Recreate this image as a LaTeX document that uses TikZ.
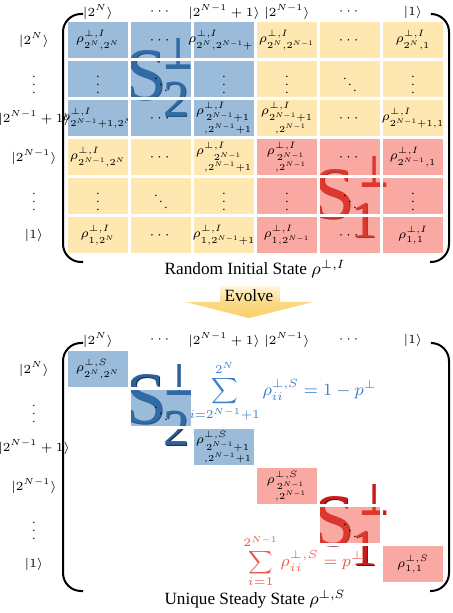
\RequirePackage{fix-cm}
\documentclass[tikz,border=0pt]{standalone}
\usepackage{amsmath}
\usepackage{graphicx}
\usepackage{fontspec}
\setmainfont{Liberation Serif}
\newfontfamily\tackfont{DejaVu Sans}
\DeclareMathSizes{6.2}{6.2}{4.4}{3.3}
\DeclareMathSizes{6.4}{6.4}{4.6}{3.4}
\DeclareMathSizes{8.2}{8.2}{5.8}{4.3}
\DeclareMathSizes{8.6}{8.6}{6}{4.5}
\usetikzlibrary{positioning}
\definecolor{blkblue}{HTML}{3577B5}
\definecolor{blkyel}{HTML}{FDCF63}
\definecolor{blkred}{HTML}{F35345}
\definecolor{stwo}{HTML}{2D6096}
\definecolor{stwodark}{HTML}{143252}
\definecolor{sone}{HTML}{C81C1C}
\definecolor{sonedark}{HTML}{6E0A0A}
\definecolor{sumblue}{HTML}{3D80C8}
\definecolor{sumred}{HTML}{F0564C}
\definecolor{evtop}{HTML}{FFF6DC}
\definecolor{evmid}{HTML}{FADA85}
\definecolor{evbot}{HTML}{F8CF6A}
\tikzset{
  ctext/.style={inner sep=0pt, font=\fontsize{6.4}{8}\selectfont},
  cell/.style={draw=white, line width=1.5pt, minimum width=31.5pt, minimum height=19.5pt, inner sep=0pt, outer sep=0pt, fill opacity=0.5},
  cellb/.style={cell, fill=blkblue, label={[ctext]center:#1}},
  celly/.style={cell, fill=blkyel, label={[ctext]center:#1}},
  cellr/.style={cell, fill=blkred, label={[ctext]center:#1}},
  lbl/.style={inner sep=1pt, font=\fontsize{6.2}{8}\selectfont},
  caption/.style={inner sep=1pt, font=\fontsize{8.6}{10}\selectfont},
  bigS/.style={inner sep=0pt, font=\fontsize{37}{37}\selectfont},
  bigsub/.style={inner sep=0pt, font=\fontsize{26}{26}\selectfont},
  tack/.style={inner sep=0pt, font=\fontsize{22}{22}\tackfont\bfseries},
  brace/.style={line width=1pt, rounded corners=9pt},
  evolve/.style={top color=evtop, bottom color=evbot, middle color=evmid},
  sumb/.style={inner sep=0pt, text=sumblue, font=\fontsize{8.6}{10}\selectfont},
  sumr/.style={inner sep=0pt, text=sumred, font=\fontsize{8.2}{10}\selectfont}
}

\begin{document}
\begin{tikzpicture}[x=0.5pt, y=-0.5pt, node distance=0pt]
  \useasboundingbox (0,0) rectangle (453,613);
  \coordinate (rowx) at (34,0);
  \coordinate (thead) at (0,12);
  \coordinate (bhead) at (0,340);

  % subspace marks behind the top matrix
  \node[bigS, text=stwodark] (s2tsh) at (147.5,76.5) {S};
  \node[bigS, text=stwo] (s2t) at (146,75) {S};
  \node[bigsub, text=stwodark] (s2tsub) at (177,100) {2};
  \node[bigsub, text=stwo] (s2tsubm) at (176,99) {2};
  \node[tack, text=stwo] (s2tsup) at (179,54) {\scalebox{0.75}[1]{⊥}};
  \node[bigS, text=sonedark] (s1tsh) at (335.5,195.5) {S};
  \node[bigS, text=sone] (s1t) at (334,194) {S};
  \node[bigsub, text=sonedark] (s1tsub) at (365,221) {1};
  \node[bigsub, text=sone] (s1tsubm) at (364,220) {1};
  \node[tack, text=sone] (s1tsup) at (375,172) {\scalebox{0.75}[1]{⊥}};

  % top matrix
  \node[cellb={$\rho^{\perp,I}_{2^N,2^N}$}] (t11) at (98,40) {};
  \node[cellb={$\cdots$}, right=of t11] (t12) {};
  \node[cellb={$\rho^{\perp,I}_{2^N,2^{N-1}+1}$}, right=of t12] (t13) {};
  \node[celly={$\rho^{\perp,I}_{2^N,2^{N-1}}$}, right=of t13] (t14) {};
  \node[celly={$\cdots$}, right=of t14] (t15) {};
  \node[celly={$\rho^{\perp,I}_{2^N,1}$}, right=of t15] (t16) {};

  \node[cellb={$\vdots$}, below=of t11] (t21) {};
  \node[cellb={$\ddots$}, right=of t21] (t22) {};
  \node[cellb={$\vdots$}, right=of t22] (t23) {};
  \node[celly={$\vdots$}, right=of t23] (t24) {};
  \node[celly={$\ddots$}, right=of t24] (t25) {};
  \node[celly={$\vdots$}, right=of t25] (t26) {};

  \node[cellb={$\rho^{\perp,I}_{2^{N-1}+1,2^N}$}, below=of t21] (t31) {};
  \node[cellb={$\cdots$}, right=of t31] (t32) {};
  \node[cellb={$\rho^{\perp,I}_{\substack{2^{N-1}+1\\,2^{N-1}+1}}$}, right=of t32] (t33) {};
  \node[celly={$\rho^{\perp,I}_{\substack{2^{N-1}+1\\,2^{N-1}}}$}, right=of t33] (t34) {};
  \node[celly={$\cdots$}, right=of t34] (t35) {};
  \node[celly={$\rho^{\perp,I}_{2^{N-1}+1,1}$}, right=of t35] (t36) {};

  \node[celly={$\rho^{\perp,I}_{2^{N-1},2^N}$}, below=of t31] (t41) {};
  \node[celly={$\cdots$}, right=of t41] (t42) {};
  \node[celly={$\rho^{\perp,I}_{\substack{2^{N-1}\\,2^{N-1}+1}}$}, right=of t42] (t43) {};
  \node[cellr={$\rho^{\perp,I}_{\substack{2^{N-1}\\,2^{N-1}}}$}, right=of t43] (t44) {};
  \node[cellr={$\cdots$}, right=of t44] (t45) {};
  \node[cellr={$\rho^{\perp,I}_{2^{N-1},1}$}, right=of t45] (t46) {};

  \node[celly={$\vdots$}, below=of t41] (t51) {};
  \node[celly={$\ddots$}, right=of t51] (t52) {};
  \node[celly={$\vdots$}, right=of t52] (t53) {};
  \node[cellr={$\vdots$}, right=of t53] (t54) {};
  \node[cellr={$\ddots$}, right=of t54] (t55) {};
  \node[cellr={$\vdots$}, right=of t55] (t56) {};

  \node[celly={$\rho^{\perp,I}_{1,2^N}$}, below=of t51] (t61) {};
  \node[celly={$\cdots$}, right=of t61] (t62) {};
  \node[celly={$\rho^{\perp,I}_{1,2^{N-1}+1}$}, right=of t62] (t63) {};
  \node[cellr={$\rho^{\perp,I}_{1,2^{N-1}}$}, right=of t63] (t64) {};
  \node[cellr={$\cdots$}, right=of t64] (t65) {};
  \node[cellr={$\rho^{\perp,I}_{1,1}$}, right=of t65] (t66) {};

  % top labels
  \node[lbl] (tc1) at (t11 |- thead) {$|2^N\rangle$};
  \node[lbl] (tc2) at (t12 |- thead) {$\cdots$};
  \node[lbl] (tc3) at (t13 |- thead) {$|2^{N-1}+1\rangle$};
  \node[lbl] (tc4) at (t14 |- thead) {$|2^{N-1}\rangle$};
  \node[lbl] (tc5) at (t15 |- thead) {$\cdots$};
  \node[lbl] (tc6) at (t16 |- thead) {$|1\rangle$};
  \node[lbl] (tr1) at (rowx |- t11) {$|2^N\rangle$};
  \node[lbl] (tr2) at (rowx |- t21) {$\vdots$};
  \node[lbl] (tr3) at (rowx |- t31) {$|2^{N-1}+1\rangle$};
  \node[lbl] (tr4) at (rowx |- t41) {$|2^{N-1}\rangle$};
  \node[lbl] (tr5) at (rowx |- t51) {$\vdots$};
  \node[lbl] (tr6) at (rowx |- t61) {$|1\rangle$};

  \draw[brace] (83,14) -- (63,14) -- (63,262) -- (83,262);
  \draw[brace] (432,14) -- (449,14) -- (449,262) -- (430,262);
  \node[caption] (capI) at (255,269) {Random Initial State $\rho^{\perp,I}$};

  % evolve arrow
  \shade[evolve] (220,286) -- (280,286) -- (280,302) -- (313,302) -- (249,318)
    -- (185,302) -- (220,302) -- cycle;
  \node[caption] (evolve) at (249,296) {Evolve};

  % subspace marks behind the bottom matrix
  \node[bigS, text=stwodark] (s2bsh) at (147.5,400.5) {S};
  \node[bigS, text=stwo] (s2b) at (146,399) {S};
  \node[bigsub, text=stwodark] (s2bsub) at (177,429) {2};
  \node[bigsub, text=stwo] (s2bsubm) at (176,428) {2};
  \node[tack, text=stwo] (s2bsup) at (180,380) {\scalebox{0.75}[1]{⊥}};
  \node[bigS, text=sonedark] (s1bsh) at (335.5,522.5) {S};
  \node[bigS, text=sone] (s1b) at (334,521) {S};
  \node[bigsub, text=sonedark] (s1bsub) at (365,549) {1};
  \node[bigsub, text=sone] (s1bsubm) at (364,548) {1};
  \node[tack, text=sone] (s1bsup) at (375,500) {\scalebox{0.75}[1]{⊥}};

  % bottom matrix
  \node[cellb={$\rho^{\perp,S}_{2^N,2^N}$}] (b11) at (98,369) {};
  \node[cellb={$\ddots$}, below right=of b11] (b22) {};
  \node[cellb={$\rho^{\perp,S}_{\substack{2^{N-1}+1\\,2^{N-1}+1}}$}, below right=of b22] (b33) {};
  \node[cellr={$\rho^{\perp,S}_{\substack{2^{N-1}\\,2^{N-1}}}$}, below right=of b33] (b44) {};
  \node[cellr={$\ddots$}, below right=of b44] (b55) {};
  \node[cellr={$\rho^{\perp,S}_{1,1}$}, below right=of b55] (b66) {};

  \node[sumb] (sumtwo) at (283,391) {$\displaystyle\sum_{i=2^{N-1}+1}^{2^N}\rho_{ii}^{\perp,S}=1-p^{\perp}$};
  \node[sumr] (sumone) at (304,561) {$\displaystyle\sum_{i=1}^{2^{N-1}}\rho_{ii}^{\perp,S}=p^{\perp}$};

  % bottom labels
  \node[lbl] (bc1) at (b11 |- bhead) {$|2^N\rangle$};
  \node[lbl] (bc2) at (b22 |- bhead) {$\cdots$};
  \node[lbl] (bc3) at (b33 |- bhead) {$|2^{N-1}+1\rangle$};
  \node[lbl] (bc4) at (b44 |- bhead) {$|2^{N-1}\rangle$};
  \node[lbl] (bc5) at (b55 |- bhead) {$\cdots$};
  \node[lbl] (bc6) at (b66 |- bhead) {$|1\rangle$};
  \node[lbl] (br1) at (rowx |- b11) {$|2^N\rangle$};
  \node[lbl] (br2) at (rowx |- b22) {$\vdots$};
  \node[lbl] (br3) at (rowx |- b33) {$|2^{N-1}+1\rangle$};
  \node[lbl] (br4) at (rowx |- b44) {$|2^{N-1}\rangle$};
  \node[lbl] (br5) at (rowx |- b55) {$\vdots$};
  \node[lbl] (br6) at (rowx |- b66) {$|1\rangle$};

  \draw[brace] (83,343) -- (63,343) -- (63,591) -- (83,591);
  \draw[brace] (432,343) -- (449,343) -- (449,591) -- (430,591);
  \node[caption] (capS) at (255,599) {Unique Steady State $\rho^{\perp,S}$};
\end{tikzpicture}
\end{document}
